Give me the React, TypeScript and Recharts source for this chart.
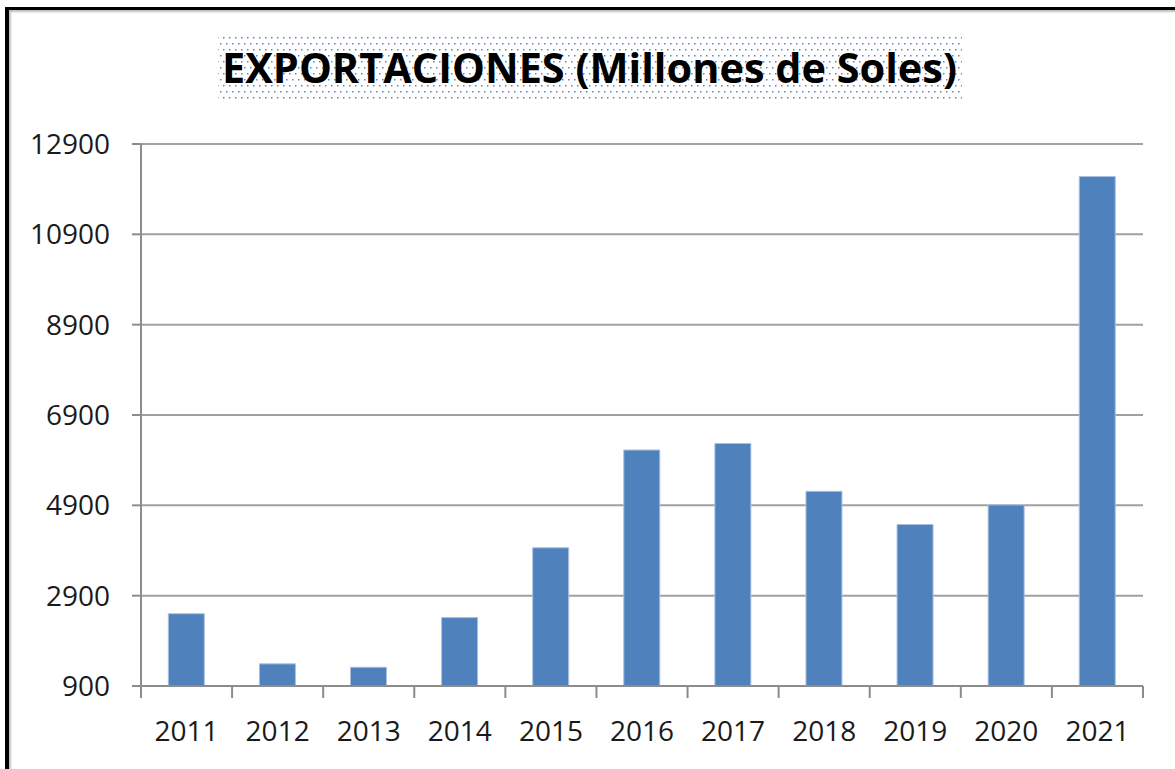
import { BarChart, Bar, XAxis, YAxis, CartesianGrid } from 'recharts';

const years = ['2011', '2012', '2013', '2014', '2015', '2016', '2017', '2018', '2019', '2020', '2021'];
const exports = [2500, 1390, 1315, 2415, 3960, 6125, 6270, 5210, 4475, 4910, 12180];
const yTicks = [900, 2900, 4900, 6900, 8900, 10900, 12900];

const data = years.map((year, i) => ({ year, value: exports[i] }));

const font = '"Open Sans", sans-serif';
const axisGray = '#8c8c8c';
const xTickMargin = 27;

function Title() {
  return (
    <svg width={1175} height={130} style={{ position: 'absolute', left: 0, top: 0 }}>
      <defs>
        <pattern id="dots" width={6} height={12} patternUnits="userSpaceOnUse">
          <rect x={1} y={1} width={1.5} height={1.5} fill="#5b86c4" />
          <rect x={4} y={7} width={1.5} height={1.5} fill="#5b86c4" />
        </pattern>
      </defs>
      <rect x={218} y={33} width={744} height={68} fill="url(#dots)" />
      <text
        x={222}
        y={83}
        fontFamily={font}
        fontWeight={700}
        fontSize={42}
        fill="#000"
        textLength={735}
        lengthAdjust="spacingAndGlyphs"
      >
        EXPORTACIONES (Millones de Soles)
      </text>
    </svg>
  );
}

// year label plus Excel-style tick marks on the category boundaries
function YearTick(props: any) {
  const { x, y, payload, index, visibleTicksCount } = props;
  const half = payload?.offset ?? 0;
  const axisY = y - xTickMargin;
  const isLast = index === visibleTicksCount - 1;
  return (
    <g>
      {half > 0 && (
        <line x1={x - half} x2={x - half} y1={axisY} y2={axisY + 12} stroke={axisGray} strokeWidth={2} />
      )}
      {half > 0 && isLast && (
        <line x1={x + half} x2={x + half} y1={axisY} y2={axisY + 12} stroke={axisGray} strokeWidth={2} />
      )}
      <text x={x} y={y + 8} dy="0.71em" textAnchor="middle" fontFamily={font} fontSize={28} fill="#1a1a1a">
        {payload.value}
      </text>
    </g>
  );
}

export default function App() {
  return (
    <div style={{ position: 'absolute', left: 0, top: 0, width: 1175, height: 769, background: '#fff', overflow: 'hidden' }}>
      <div
        style={{
          position: 'absolute',
          left: 5,
          top: 7,
          width: 1175,
          height: 769,
          borderLeft: '4px solid #000',
          borderTop: '3px solid #000',
          boxShadow: 'inset 2px 2px 2px rgba(0,0,0,0.25)',
        }}
      />
      <Title />
      <div style={{ position: 'absolute', left: 0, top: 0 }}>
        <BarChart
          width={1175}
          height={769}
          data={data}
          margin={{ top: 144, right: 32, bottom: 0, left: 0 }}
          barCategoryGap="30%"
        >
          <CartesianGrid horizontal vertical={false} stroke="#a0a0a0" strokeWidth={2} />
          <XAxis
            dataKey="year"
            height={83}
            tickLine={false}
            tickSize={0}
            axisLine={{ stroke: axisGray, strokeWidth: 2 }}
            tickMargin={xTickMargin}
            interval={0}
            tick={<YearTick />}
          />
          <YAxis
            width={141}
            domain={[900, 12900]}
            ticks={yTicks}
            interval={0}
            tickSize={9}
            tickMargin={22}
            tickLine={{ stroke: axisGray, strokeWidth: 2 }}
            axisLine={{ stroke: axisGray, strokeWidth: 2 }}
            tick={{ fontFamily: font, fontSize: 28, fill: '#1a1a1a' }}
          />
          <Bar dataKey="value" fill="#4f81bd" stroke="#a9c1e0" strokeWidth={1} isAnimationActive={false} />
        </BarChart>
      </div>
    </div>
  );
}
